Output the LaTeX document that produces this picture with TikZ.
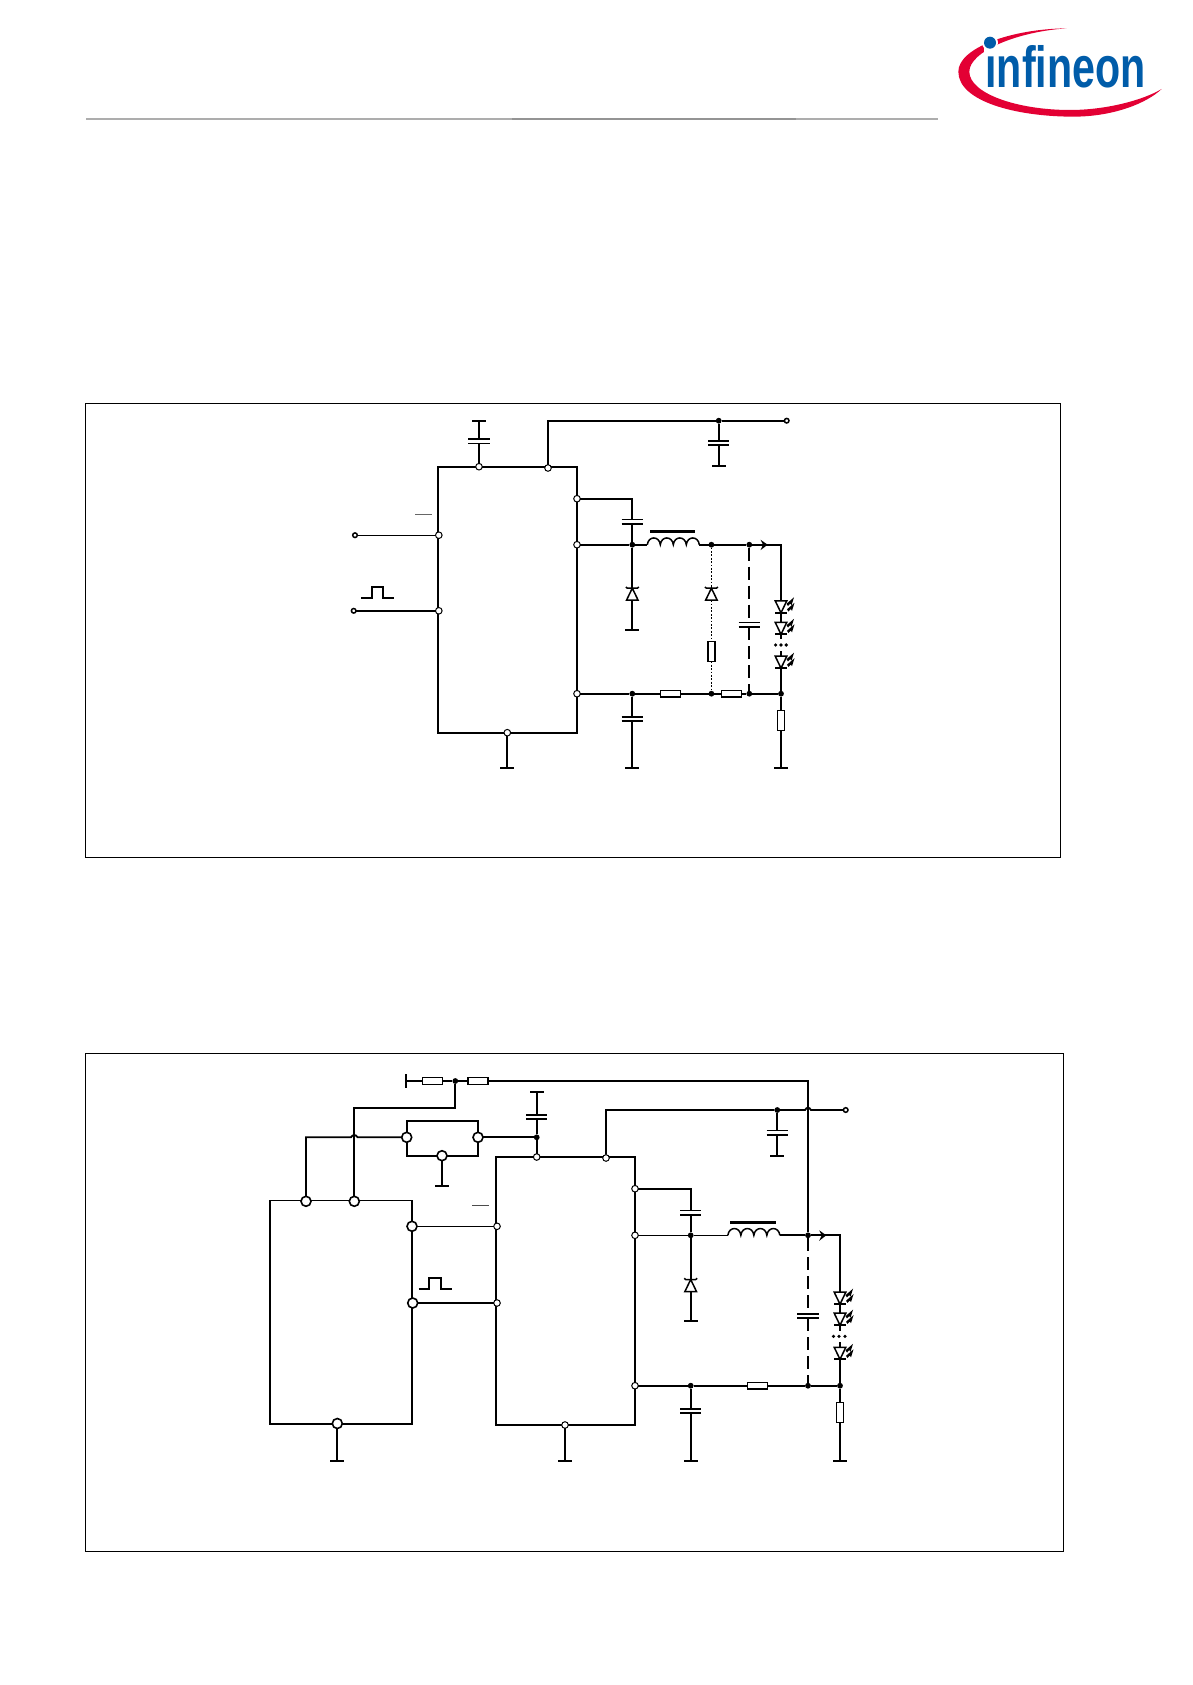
\documentclass[tikz,border=0pt]{standalone}
\usepackage{fontspec}
\usepackage{graphicx}
\newfontfamily\logofont{Liberation Sans}[Scale=1]
\definecolor{ifxblue}{HTML}{005CA9}
\definecolor{ifxred}{HTML}{E30034}
\tikzset{
  wire/.style={line width=1.8pt,line join=miter},
  thinwire/.style={line width=1.1pt},
  dotwire/.style={line width=1.5pt,dash pattern=on 1.8pt off 1.6pt},
  dashwire/.style={line width=1.8pt,dash pattern=on 13pt off 6pt},
  frameline/.style={line width=1.3pt,draw=black},
  icbox/.style={draw=black,line width=1.8pt,fill=white,inner sep=0,outer sep=0},
  pinS/.style={circle,draw=black,fill=white,line width=1pt,minimum size=6.6pt,inner sep=0,outer sep=0},
  pinB/.style={circle,draw=black,fill=white,line width=1.6pt,minimum size=10pt,inner sep=0,outer sep=0},
  term/.style={circle,draw=black,fill=white,line width=1.5pt,minimum size=4.6pt,inner sep=0,outer sep=0},
  dotj/.style={circle,fill=black,minimum size=5.8pt,inner sep=0,outer sep=0},
  dotm/.style={circle,fill=black,minimum size=3.6pt,inner sep=0,outer sep=0},
  gndbar/.style={fill=black,minimum width=14pt,minimum height=1.8pt,inner sep=0,outer sep=0},
  gndbarv/.style={fill=black,minimum width=1.8pt,minimum height=13.5pt,inner sep=0,outer sep=0},
  resH/.style={draw=black,fill=white,line width=1.4pt,minimum width=20pt,minimum height=6.6pt,inner sep=0,outer sep=0},
  resV/.style={draw=black,fill=white,line width=1.4pt,minimum width=7pt,minimum height=20pt,inner sep=0,outer sep=0},
  capbox/.style={minimum width=21.4pt,minimum height=4.4pt,inner sep=0,outer sep=0},
  symbox/.style={minimum width=12pt,minimum height=12pt,inner sep=0,outer sep=0},
  coilbox/.style={minimum width=52pt,minimum height=1pt,inner sep=0,outer sep=0},
}
\newcommand{\capV}[3]{\node[capbox] (#1) at (#2,#3) {};
  \begin{scope}[shift={(#1)}]\draw[line width=1.6pt] (-10.7,-2.2)--(10.7,-2.2) (-10.7,2.2)--(10.7,2.2);\end{scope}}
\newcommand{\diodeU}[3]{\node[symbox] (#1) at (#2,#3) {};
  \begin{scope}[shift={(#1)}]
  \draw[line width=1.5pt,fill=white,line join=miter] (0,-6)--(5.8,6)--(-5.8,6)--cycle;
  \draw[line width=1.5pt] (-6.5,-7.2)--(-5,-6)--(5,-6)--(6.5,-7.2);
  \end{scope}}
\newcommand{\ledD}[3]{\node[symbox] (#1) at (#2,#3) {};
  \begin{scope}[shift={(#1)}]
  \draw[line width=1.5pt,fill=white,line join=miter] (-5.8,-6)--(5.8,-6)--(0,6)--cycle;
  \draw[line width=1.8pt] (-6,6)--(6,6);
  \fill (5.5,-3)--(13,-9.5)--(10.5,-1.5)--(9.3,-3.2)--(7,-0.8)--cycle;
  \fill (6,2.5)--(13.5,-4)--(11,4)--(9.8,2.3)--(7.5,4.7)--cycle;
  \end{scope}}
\newcommand{\coilH}[3]{\node[coilbox] (#1) at (#2,#3) {};
  \begin{scope}[shift={(#1)}]
  \draw[line width=1.5pt] (-26,0) .. controls (-25,-9) and (-14,-9) .. (-13,0)
    .. controls (-12,-9) and (-1,-9) .. (0,0)
    .. controls (1,-9) and (12,-9) .. (13,0)
    .. controls (14,-9) and (25,-9) .. (26,0);
  \fill (-23.5,-14.5) rectangle (22,-11.5);
  \end{scope}}
\newcommand{\flowmark}[2]{\begin{scope}[shift={(#1,#2)}]
  \fill (4.3,0)--(-2.8,-5)--(-0.3,0)--(-2.8,5.5)--cycle;\end{scope}}
\begin{document}
\begin{tikzpicture}[x=1pt,y=-1pt]
\useasboundingbox (0,0) rectangle (1192,1685);
% header rule
\draw[line width=1.8pt,draw=black!32] (86,118.7)--(937.5,118.7);
\draw[line width=1.8pt,draw=black!42] (512,118.7)--(796,118.7);
% logo
\begin{scope}[shift={(950,15)},x=0.3333pt,y=-0.3333pt]
  \fill[ifxred] (350,40) .. controls (180,42) and (25,100) .. (25,170)
    .. controls (25,260) and (200,305) .. (370,305)
    .. controls (490,305) and (590,265) .. (635,222)
    .. controls (580,255) and (470,285) .. (360,285)
    .. controls (200,285) and (58,235) .. (58,170)
    .. controls (58,110) and (200,50) .. (350,40) -- cycle;
  \fill[white] (120,83) circle[radius=8pt];
\end{scope}
\node[anchor=base west,inner sep=0,outer sep=0,text=ifxblue] (logotext) at (985.5,87.7)
  {\scalebox{0.71}[1]{\logofont\bfseries\fontsize{58}{58}\selectfont infineon}};
\fill[white] (984,44) rectangle (997,53.5);
\fill[ifxblue] (990,42.7) circle[radius=6pt];
% frames
\node[frameline,draw,minimum width=975pt,minimum height=454pt,inner sep=0,outer sep=0] (frameA) at (572.8,630.3) {};
\node[frameline,draw,minimum width=978pt,minimum height=498pt,inner sep=0,outer sep=0] (frameB) at (574.3,1302.3) {};

% ===== circuit A =====
\node[icbox,minimum width=139.3pt,minimum height=266pt] (icA) at (507.4,599.7) {};
\node[pinS] (aT1) at (479,466.7) {};
\node[pinS] (aT2) at (548,468) {};
\node[pinS] (aR1) at (577,498.7) {};
\node[pinS] (aR2) at (577,544.7) {};
\node[pinS] (aR3) at (577,693.7) {};
\node[pinS] (aL1) at (438.8,535.2) {};
\node[pinS] (aL2) at (438.8,610.8) {};
\node[pinS] (aB) at (507.3,732.7) {};
\node[term] (aIn1) at (355,535.2) {};
\node[term] (aIn2) at (353.7,610.8) {};
\node[term] (aVin) at (786.7,420.7) {};
\draw[line width=0.7pt,draw=black!60] (415,514.3)--(431.7,514.3);
\draw[line width=1.8pt] (361,598.3)--(371.7,598.3)--(371.7,587.3)--(383.3,587.3)--(383.3,598.3)--(394.3,598.3);
\draw[thinwire,line width=1.3pt] (aIn1)--(aL1);
\draw[wire] (aIn2)--(aL2);
% top caps
\capV{aC1}{479}{441.2}
\node[gndbar] (aG1) at (479,421) {};
\draw[wire] (aG1)--(aC1) (aC1)--(aT1);
\node[dotj] (aJ0) at (718.7,420.7) {};
\coordinate (aK0) at (548,420.7);
\draw[wire] (aT2)--(aK0)--(aJ0)--(aVin);
\capV{aC2}{718.7}{443}
\node[gndbar] (aG2) at (718.7,466) {};
\draw[wire] (aJ0)--(aC2) (aC2)--(aG2);
% bootstrap
\capV{aC3}{632.3}{521.6}
\node[dotj] (aJ1) at (632.3,544.7) {};
\draw[wire] (aR1)-|(aC3.north);
\draw[wire] (aC3)--(aJ1);
\coilH{aL}{673.3}{544.7}
\node[dotj] (aJ2) at (711.4,544.7) {};
\node[dotj] (aJ3) at (749.3,544.7) {};
\draw[wire] (aR2)--(aJ1)--(aL.west) (aL.east)--(aJ2)--(aJ3);
\diodeU{aD1}{632.3}{594.2}
\node[gndbar] (aG3) at (632.3,630) {};
\draw[wire] (aJ1)--(aD1) (aD1)--(aG3);
% dotted branch
\diodeU{aD2}{711.4}{594.2}
\node[resV] (aR5) at (711.4,651.3) {};
\node[dotj] (aJ5) at (711.4,693.7) {};
\draw[dotwire] (aJ2)--(aD2) (aD2)--(aR5) (aR5)--(aJ5);
% dashed branch
\capV{aC4}{749.3}{624.8}
\node[dotj] (aJ6) at (749.3,693.7) {};
\draw[dashwire] (aJ3)--(aC4) (aC4)--(aJ6);
% bottom line
\node[dotj] (aJ4) at (632.3,693.7) {};
\node[resH] (aR6) at (670.2,693.7) {};
\node[resH] (aR7) at (731.2,693.7) {};
\node[dotj] (aJ7) at (781,693.7) {};
\draw[wire] (aR3)--(aJ4)--(aR6)--(aJ5)--(aR7)--(aJ6)--(aJ7);
\capV{aC5}{632.3}{719}
\node[gndbar] (aG4) at (632.3,768.3) {};
\draw[wire] (aJ4)--(aC5) (aC5)--(aG4);
\node[gndbar] (aG5) at (507.3,768.3) {};
\draw[wire] (aB)--(aG5);
% LEDs
\ledD{aLa}{781}{606.8}
\ledD{aLb}{781}{628.3}
\ledD{aLc}{781}{662.2}
\coordinate (aS1) at (781,639);
\coordinate (aS2) at (781,651);
\node[dotm] (aDa) at (775.6,645) {};
\node[dotm] (aDb) at (781,645) {};
\node[dotm] (aDc) at (786.2,645) {};
\draw[wire] (aJ3)-|(aLa.north);
\draw[wire] (aLa)--(aLb) (aLb)--(aS1) (aS2)--(aLc) (aLc)--(aJ7);
\flowmark{763.3}{544.7}
\node[resV] (aR8) at (781,720.4) {};
\node[gndbar] (aG6) at (781,768.3) {};
\draw[wire] (aJ7)--(aR8) (aR8)--(aG6);

% ===== circuit B =====
\node[icbox,draw=none,minimum width=142pt,minimum height=223.4pt] (mcu) at (341,1312) {};
\draw[thinwire] (mcu.north west)--(mcu.north east);
\draw[wire] (mcu.north west)--(mcu.south west)--(mcu.south east)--(mcu.north east);
\node[pinB] (mT1) at (306,1201.3) {};
\node[pinB] (mT2) at (354.3,1201.3) {};
\node[pinB] (mR1) at (412,1226.3) {};
\node[pinB] (mR2) at (412.7,1303) {};
\node[pinB] (mB) at (337.3,1423.5) {};
\node[gndbar] (mG) at (337.3,1461) {};
\draw[wire] (mB)--(mG);
% regulator
\node[icbox,minimum width=71.3pt,minimum height=34.7pt] (reg) at (442.35,1138.35) {};
\node[pinB] (rL) at (406.7,1137.3) {};
\node[pinB] (rR) at (478,1137.3) {};
\node[pinB] (rB) at (442,1155.7) {};
\node[gndbar] (rG) at (442,1186) {};
\draw[wire] (rB)--(rG);
% divider
\node[gndbarv] (bBar) at (406,1081) {};
\node[resH] (bRa) at (432.3,1081) {};
\node[dotj] (bJt) at (455.3,1081) {};
\node[resH] (bRb) at (477.8,1081) {};
\node[dotj] (bJm) at (808,1235.3) {};
\draw[wire] (bBar)--(bRa)--(bJt)--(bRb);
\draw[wire] (bRb)-|(bJm);
\coordinate (bK1) at (455.3,1107.7);
\draw[wire] (bJt)--(bK1)-|(mT2);
% VCC line with hop
\coordinate (bH1) at (351,1137.3);
\coordinate (bH2) at (357.6,1137.3);
\draw[wire] (mT1)|-(bH1) .. controls (352.5,1134.3) and (356,1134.3) .. (bH2)--(rL);
% IC
\node[icbox,minimum width=139pt,minimum height=268pt] (icB) at (565.5,1291) {};
\node[pinS] (bT1) at (536.7,1157) {};
\node[pinS] (bT2) at (606,1158) {};
\node[pinS] (bR1) at (635,1188.7) {};
\node[pinS] (bR2) at (635,1235.3) {};
\node[pinS] (bR3) at (635,1385.7) {};
\node[pinS] (bL1) at (497,1226.3) {};
\node[pinS] (bL2) at (497,1303) {};
\node[pinS] (bB) at (565,1425) {};
\draw[line width=0.7pt,draw=black!70] (472.3,1205.3)--(489.3,1205.3);
\draw[line width=1.8pt] (418.7,1289.3)--(429.3,1289.3)--(429.3,1278)--(441.3,1278)--(441.3,1289.3)--(452,1289.3);
\draw[thinwire] (mR1)--(bL1);
\draw[wire] (mR2)--(bL2);
\node[gndbar] (bG1) at (565,1461) {};
\draw[wire] (bB)--(bG1);
\node[dotj] (bJ0) at (536.7,1137.3) {};
\draw[wire] (rR)--(bJ0)--(bT1);
\capV{bC1}{536.7}{1117}
\node[gndbar] (bG2) at (536.7,1092.3) {};
\draw[wire] (bJ0)--(bC1) (bC1)--(bG2);
% Vin with hop
\node[dotj] (bJ1) at (777.3,1110) {};
\node[term] (bVin) at (845.7,1110) {};
\coordinate (bH3) at (805,1110);
\coordinate (bH4) at (811,1110);
\draw[wire] (bT2)|-(bJ1)--(bH3) .. controls (806.5,1107) and (809.5,1107) .. (bH4)--(bVin);
\capV{bC2}{777.3}{1132.7}
\node[gndbar] (bG3) at (777.3,1156) {};
\draw[wire] (bJ1)--(bC2) (bC2)--(bG3);
% switch node
\capV{bC3}{690.7}{1212.5}
\node[dotj] (bJ2) at (690.7,1235.3) {};
\draw[wire] (bR1)-|(bC3.north);
\draw[wire] (bC3)--(bJ2);
\draw[thinwire] (bR2)--(bJ2);
\coilH{bL}{753.85}{1235.3}
\draw[thinwire,line width=1.3pt] (bJ2)--(bL.west);
\draw[wire] (bL.east)--(bJm);
\diodeU{bD1}{690.7}{1285.5}
\node[gndbar] (bG4) at (690.7,1321.3) {};
\draw[wire] (bJ2)--(bD1) (bD1)--(bG4);
% dashed
\capV{bC4}{808}{1316}
\node[dotj] (bJ4) at (808,1385.7) {};
\draw[dashwire] (bJm)--(bC4) (bC4)--(bJ4);
% bottom line
\node[dotj] (bJ3) at (690.7,1385.7) {};
\node[resH] (bRc) at (757.5,1385.7) {};
\node[dotj] (bJ5) at (840,1385.7) {};
\draw[wire] (bR3)--(bJ3)--(bRc)--(bJ4)--(bJ5);
\capV{bC5}{690.7}{1411}
\node[gndbar] (bG5) at (690.7,1461) {};
\draw[wire] (bJ3)--(bC5) (bC5)--(bG5);
% LEDs
\ledD{bLa}{840}{1298.2}
\ledD{bLb}{840}{1319.2}
\ledD{bLc}{840}{1353.3}
\coordinate (bS1) at (840,1331);
\coordinate (bS2) at (840,1342);
\node[dotm] (bDa) at (833.5,1336.3) {};
\node[dotm] (bDb) at (839,1336.3) {};
\node[dotm] (bDc) at (845,1336.3) {};
\draw[wire] (bJm)-|(bLa.north);
\draw[wire] (bLa)--(bLb) (bLb)--(bS1) (bS2)--(bLc) (bLc)--(bJ5);
\flowmark{822}{1235.3}
\node[resV] (bRd) at (840,1412.7) {};
\node[gndbar] (bG6) at (840,1461) {};
\draw[wire] (bJ5)--(bRd) (bRd)--(bG6);
\end{tikzpicture}
\end{document}
